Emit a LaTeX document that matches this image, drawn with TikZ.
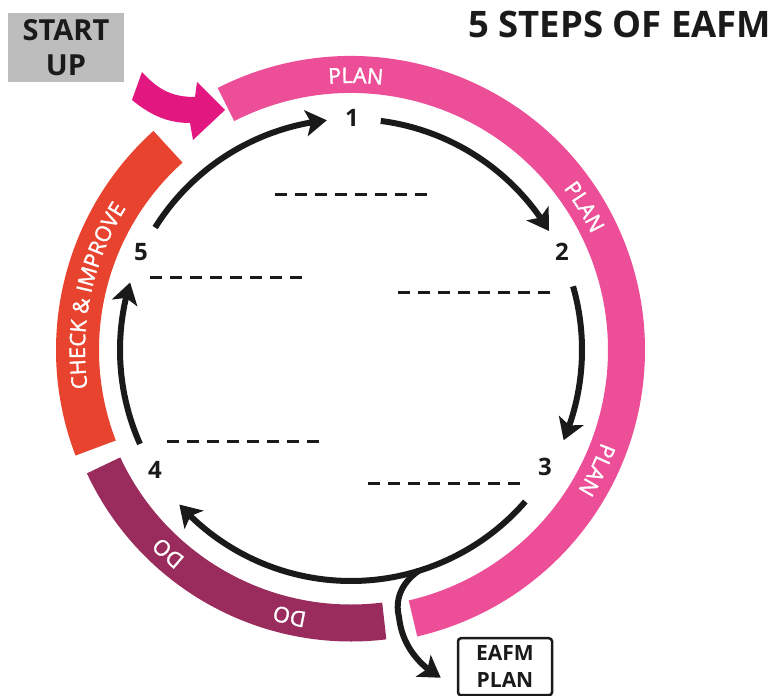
\documentclass[tikz,border=0pt]{standalone}
\usepackage{fontspec}
\setmainfont{Open Sans}
\newfontfamily\ringfam{Open Sans}[FakeBold=1.6]
\usetikzlibrary{arrows.meta,bending,decorations.text,calc}

\definecolor{planpink}{HTML}{EC4E97}
\definecolor{startmag}{HTML}{E2177F}
\definecolor{checkred}{HTML}{E8432E}
\definecolor{doplum}{HTML}{9A2C5D}
\definecolor{startgray}{HTML}{BDBDBD}
\definecolor{inkblack}{HTML}{1A1A1A}

\newcommand\ringlabelfont{\ringfam\fontsize{21.5}{21.5}\selectfont}

\begin{document}
\begin{tikzpicture}[x=1pt,y=1pt,
  band/.style={line width=37pt},
  steparrow/.style={line width=6pt, draw=inkblack,
    -{Stealth[length=21pt,width=26pt,inset=5pt]}},
  stepnum/.style={font=\fontsize{24}{24}\selectfont\bfseries, inner sep=0pt, text=inkblack},
  blank/.style={line width=3pt, draw=inkblack, dash pattern=on 12pt off 8pt},
]
\useasboundingbox (0,0) rectangle (777,696);

% centre of the cycle
\coordinate (c) at (351,346);

% ---- coloured ring ----
\draw[band, planpink] ($(c)+(117:275.5)$) arc[start angle=117, end angle=-77, radius=275.5];
\draw[band, doplum]   ($(c)+(-83:273)$) arc[start angle=-83, end angle=-155, radius=273];
\draw[line width=43pt, checkred] ($(c)+(201:273.5)$) arc[start angle=201, end angle=132, radius=273.5];

% ---- ring labels ----
\path[decorate, decoration={text along path, text align=center, text color=white,
  text={|\ringlabelfont|PLAN}}] ($(c)+(114:267)$) arc[start angle=114, end angle=64, radius=267];
\path[decorate, decoration={text along path, text align=center, text color=white,
  text={|\ringlabelfont|PLAN}}] ($(c)+(56.5:267)$) arc[start angle=56.5, end angle=6.5, radius=267];
\path[decorate, decoration={text along path, text align=center, text color=white,
  text={|\ringlabelfont|PLAN}}] ($(c)+(-1:267)$) arc[start angle=-1, end angle=-51, radius=267];
\path[decorate, decoration={text along path, text align=center, text color=white,
  text={|\ringlabelfont|CHECK {\&} IMPROVE}}] ($(c)+(198:266)$) arc[start angle=198, end angle=138, radius=266];
\path[decorate, decoration={text along path, text align=center, text color=white,
  text={|\ringlabelfont|DO}}] ($(c)+(-107:266)$) arc[start angle=-107, end angle=-157, radius=266];
\path[decorate, decoration={text along path, text align=center, text color=white,
  text={|\ringlabelfont|DO}}] ($(c)+(-78:266)$) arc[start angle=-78, end angle=-128, radius=266];

% ---- start-up box and its entry arrow ----
\node[fill=startgray, minimum width=116pt, minimum height=69pt, inner sep=0pt, align=center,
  font=\fontsize{29}{35}\selectfont\bfseries, text=inkblack] (start) at (66,648.5) {START\\UP};
\fill[startmag] (142,624) .. controls (160,604) and (175,599) .. (195,599)
  -- (197,614) -- (225,586) -- (193,556) -- (190,573)
  .. controls (165,573) and (148,583) .. (132,596) -- cycle;

% ---- title ----
\node[anchor=base west, inner sep=0pt, font=\fontsize{36.5}{36.5}\selectfont\bfseries,
  text=inkblack] (title) at (468,658) {5 STEPS OF EAFM};

% ---- step numbers ----
\node[stepnum] (n1) at (352,578) {1};
\node[stepnum] (n2) at (562,444) {2};
\node[stepnum] (n3) at (545,229) {3};
\node[stepnum] (n4) at (155,226) {4};
\node[stepnum] (n5) at (141,444) {5};

% ---- arrows between the steps ----
\coordinate (s12) at ($(c)+(82.6:231)$);
\coordinate (s23) at ($(c)+(16:231)$);
\coordinate (s34) at ($(c)+(-41:231)$);
\coordinate (s45) at ($(c)+(204:231)$);
\coordinate (s51) at ($(c)+(148:231)$);
\draw[steparrow] (s12) arc[start angle=82.6, end angle=31, radius=231];
\draw[steparrow] (s23) arc[start angle=16, end angle=-23, radius=231];
\draw[steparrow] (s34) arc[start angle=-41, end angle=-138, radius=231];
\draw[steparrow] (s45) arc[start angle=204, end angle=163, radius=231];
\draw[steparrow] (s51) arc[start angle=148, end angle=96, radius=231];

% ---- output: the EAFM plan ----
\node[draw=inkblack, line width=2.5pt, rounded corners=3pt, minimum width=94pt,
  minimum height=57pt, inner sep=0pt, anchor=north, align=center,
  font=\fontsize{21}{27}\selectfont\bfseries, text=inkblack] (plan) at (505,59) {EAFM\\PLAN};
\coordinate (fork) at ($(c)+(-73:231)$);
\coordinate (plantip) at ($(plan.west)+(-16,-11)$);
\draw[steparrow] (fork) .. controls (400,112) and (395,95) .. (399,79)
  .. controls (402,50) and (420,30) .. (plantip);

% ---- blanks to fill in ----
\draw[blank] (275,501) -- (432,501);
\draw[blank] (150,418) -- (308,418);
\draw[blank] (398,403) -- (555,403);
\draw[blank] (167,254) -- (325,254);
\draw[blank] (368,212) -- (522,212);
\end{tikzpicture}
\end{document}
